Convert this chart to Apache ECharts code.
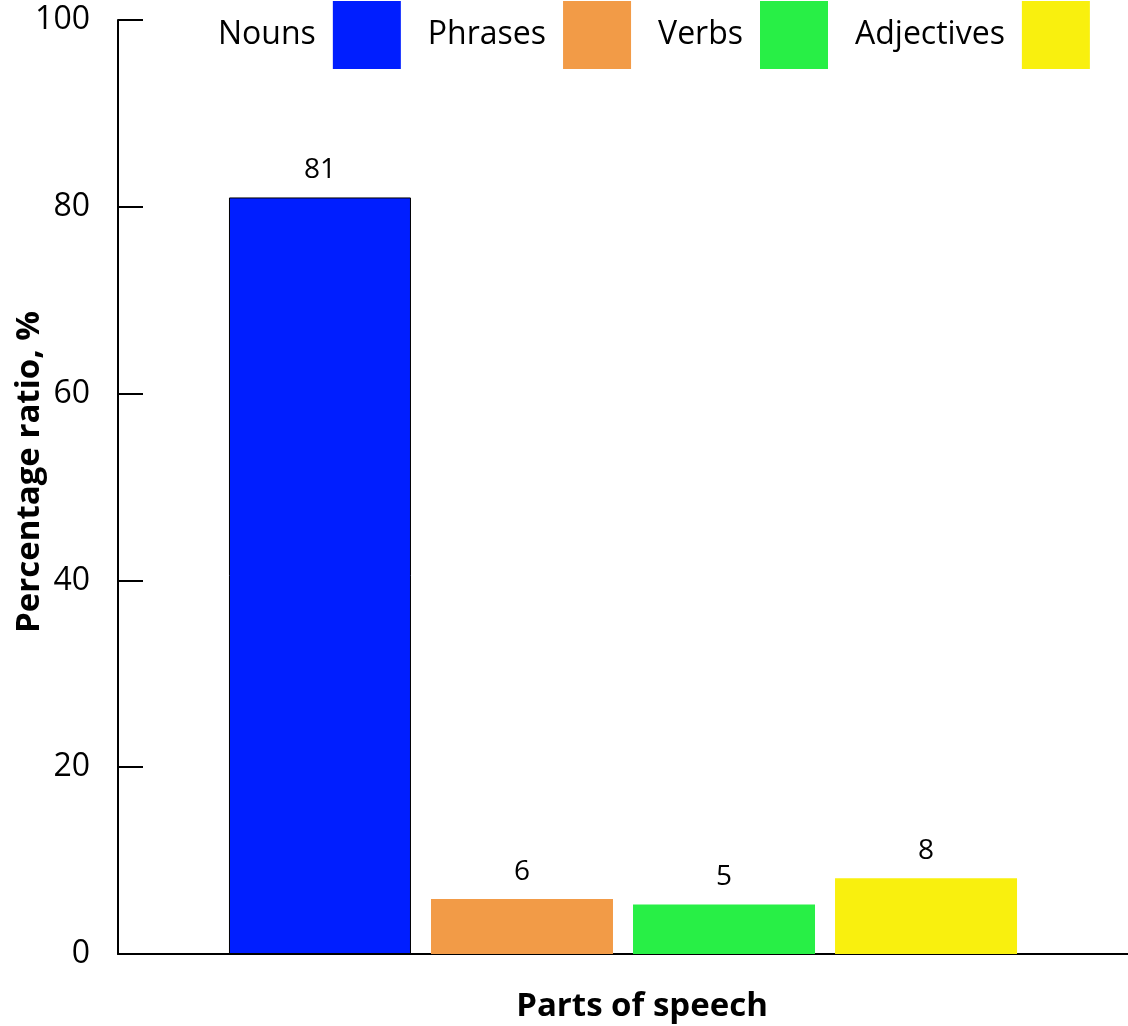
<!DOCTYPE html>
<html lang="en">
<head>
    <meta charset="UTF-8">
    <script type="text/javascript" src="https://cdn.jsdelivr.net/npm/echarts@6/dist/echarts.min.js"></script>
    <style>
        html, body { margin: 0; padding: 0; background: #fff; }
        #chart { width: 1128px; height: 1026px; }
    </style>
</head>
<body>
    <div id="chart"></div>
</body>
<script>
    // data
    var categories = ["Parts of speech"];
    var seriesNames = ["Nouns", "Phrases", "Verbs", "Adjectives"];
    var seriesValues = [81, 5.9, 5.3, 8.1];
    var seriesColors = ["#001EFF", "#F29B47", "#28EF46", "#F9F00E"];
    var yTicks = [0, 20, 40, 60, 80, 100];

    var fontFamily = "Open Sans";

    var chart = echarts.init(document.getElementById("chart"));

    var series = [];
    for (var i = 0; i < seriesNames.length; i++) {
        series.push({
            name: seriesNames[i],
            type: "bar",
            data: [seriesValues[i]],
            barWidth: 182,
            barGap: "11%",
            itemStyle: {
                color: seriesColors[i],
                borderColor: i === 0 ? "#000" : seriesColors[i],
                borderWidth: i === 0 ? 1 : 0
            },
            label: {
                show: true,
                position: "top",
                distance: 13,
                fontFamily: fontFamily,
                fontSize: 28,
                color: "#000",
                formatter: function (p) { return Math.round(p.value); }
            }
        });
    }

    var option = {
        animation: false,
        textStyle: { fontFamily: fontFamily },
        grid: { left: 118, right: 0, top: 20, bottom: 72, containLabel: false, outerBoundsMode: "none" },
        legend: {
            left: 218,
            top: 1,
            padding: 0,
            width: 1000,
            align: "right",
            itemWidth: 68,
            itemHeight: 68,
            itemGap: 27,
            icon: "rect",
            itemStyle: { borderWidth: 0 },
            textStyle: {
                fontFamily: fontFamily,
                fontSize: 32,
                color: "#000",
                padding: [0, 12, 0, 0]
            },
            data: seriesNames
        },
        xAxis: {
            type: "category",
            data: categories,
            name: "Parts of speech",
            nameLocation: "middle",
            nameGap: 36,
            nameMoveOverlap: false,
            nameTextStyle: {
                fontFamily: fontFamily,
                fontSize: 33,
                fontWeight: "bold",
                color: "#000",
                padding: [0, 0, 0, 38]
            },
            axisLine: { lineStyle: { color: "#000", width: 2 } },
            axisTick: { show: false },
            axisLabel: { show: false }
        },
        yAxis: {
            type: "value",
            min: yTicks[0],
            max: yTicks[yTicks.length - 1],
            interval: 20,
            name: "Percentage ratio, %",
            nameLocation: "middle",
            nameGap: 72,
            nameMoveOverlap: false,
            nameTextStyle: {
                fontFamily: fontFamily,
                fontSize: 33,
                fontWeight: "bold",
                color: "#000",
                padding: [0, 0, 0, 30]
            },
            axisLine: { show: true, lineStyle: { color: "#000", width: 2 } },
            axisTick: { show: true, inside: true, length: 25, lineStyle: { color: "#000", width: 2 } },
            axisLabel: { fontFamily: fontFamily, fontSize: 32, color: "#000", margin: 28 },
            splitLine: { show: false }
        },
        series: series
    };

    window.onload = function () {
        chart.setOption(option);
    };
</script>
</html>
